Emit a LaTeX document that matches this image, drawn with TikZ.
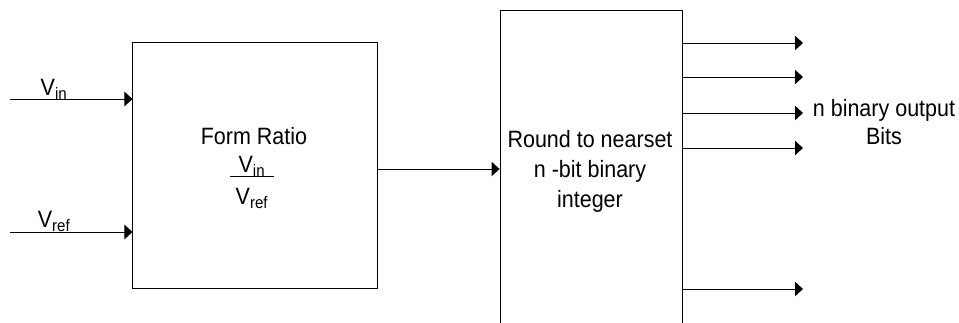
\documentclass[tikz,border=0pt]{standalone}
\usepackage{fontspec}
\setmainfont{Liberation Sans}[FakeStretch=0.91]
\usepackage{tikz}
\usetikzlibrary{arrows.meta, positioning}
\tikzstyle{block} = [draw, rectangle, line width=0.7pt, inner sep=0pt]
\tikzstyle{txt} = [align=center, inner sep=0pt, font=\fontsize{16.8}{21.3}\selectfont]
\tikzstyle{arrow} = [line width=0.7pt, -{Triangle[length=0.2cm, width=0.36cm]}]

\begin{document}
\begin{tikzpicture}[x=0.025cm, y=0.025cm]
    \clip (0,0) rectangle (959,322);
    % the two blocks
    \node [block, minimum width=6.1cm, minimum height=6.125cm] (ratio) at (255,156.5) {};
    \node [block, right=3.05cm of ratio, yshift=-0.275cm, minimum width=4.55cm, minimum height=8.275cm] (round) {};
    % text of the ratio block
    \node [txt, anchor=base] (form) at (254,177) {Form Ratio};
    \node [txt, anchor=base] (num) at (252,149) {V\textsubscript{in}};
    \node [txt, anchor=base] (den) at (252,117) {V\textsubscript{ref}};
    \draw [line width=0.7pt] ([xshift=-0.55cm, yshift=-0.075cm]num.base) -- ([xshift=0.55cm, yshift=-0.075cm]num.base);
    % text of the rounding block
    \node [txt] (rtext) at (590,151) {Round to nearset\\n -bit binary\\integer};
    % inputs
    \coordinate (vin) at (10,223);
    \coordinate (vref) at (10,90);
    \draw [arrow] (vin) -- node[txt, pos=0.36, anchor=base, yshift=0.08cm] (vinlbl) {V\textsubscript{in}} (vin -| ratio.west);
    \draw [arrow] (vref) -- node[txt, pos=0.36, anchor=base, yshift=0.1cm] (vreflbl) {V\textsubscript{ref}} (vref -| ratio.west);
    \draw [arrow] (ratio.east |- 0,153) -- (round.west |- 0,153);
    % output bits
    \coordinate (b1) at (803,279);
    \coordinate (b2) at (803,245);
    \coordinate (b3) at (803,209);
    \coordinate (b4) at (803,174);
    \coordinate (bn) at (803,33);
    \draw [arrow] (round.east |- b1) -- (b1);
    \draw [arrow] (round.east |- b2) -- (b2);
    \draw [arrow] (round.east |- b3) -- (b3);
    \draw [arrow] (round.east |- b4) -- (b4);
    \draw [arrow] (round.east |- bn) -- (bn);
    \node [txt, font=\fontsize{16.8}{19.5}\selectfont] (bits) at (884,200) {n binary output\\Bits};
\end{tikzpicture}
\end{document}
